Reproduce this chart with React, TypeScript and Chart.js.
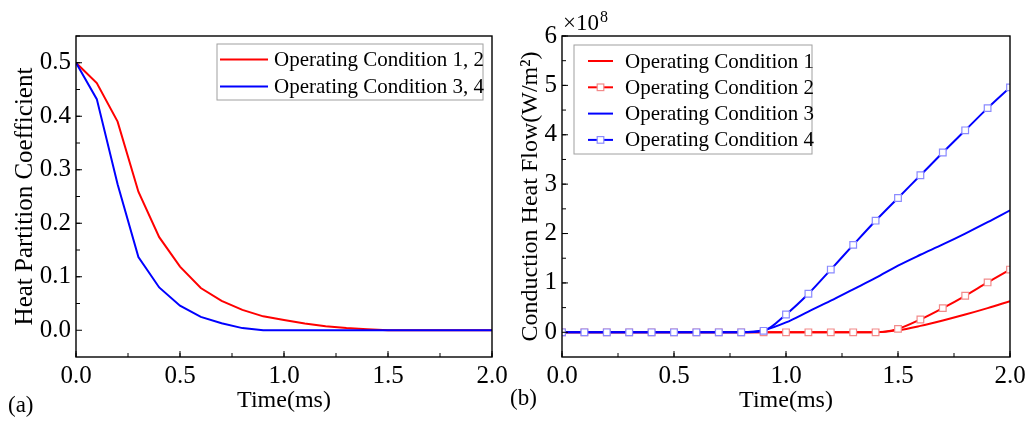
import React, { useEffect, useRef } from 'react';
import { Chart, registerables } from 'chart.js';

Chart.register(...registerables);

const FONT = "'Liberation Serif', 'Times New Roman', serif";

// time axis (ms), shared by both panels
const timeMs = [0, 0.1, 0.2, 0.3, 0.4, 0.5, 0.6, 0.7, 0.8, 0.9, 1.0, 1.1, 1.2, 1.3, 1.4, 1.5, 1.6, 1.7, 1.8, 1.9, 2.0];

// (a) heat partition coefficient
const partition12 = [0.5, 0.462, 0.39, 0.259, 0.174, 0.119, 0.079, 0.055, 0.038, 0.026, 0.019, 0.0125, 0.0075, 0.004, 0.002, 0, 0, 0, 0, 0, 0];
const partition34 = [0.5, 0.432, 0.273, 0.137, 0.08, 0.046, 0.025, 0.013, 0.004, 0, 0, 0, 0, 0, 0, 0, 0, 0, 0, 0, 0];

// (b) conduction heat flow, in units of 1e8 W/m^2
const heat1 = [0, 0, 0, 0, 0, 0, 0, 0, 0, 0, 0, 0, 0, 0, 0, 0.04, 0.13, 0.24, 0.36, 0.49, 0.63];
const heat2 = [0, 0, 0, 0, 0, 0, 0, 0, 0, 0, 0, 0, 0, 0, 0, 0.07, 0.26, 0.49, 0.74, 1.01, 1.27];
const heat3 = [0, 0, 0, 0, 0, 0, 0, 0, 0, 0.04, 0.2, 0.42, 0.64, 0.87, 1.1, 1.35, 1.57, 1.78, 2.0, 2.23, 2.47];
const heat4 = [0, 0, 0, 0, 0, 0, 0, 0, 0, 0.03, 0.36, 0.78, 1.27, 1.77, 2.26, 2.72, 3.18, 3.64, 4.09, 4.54, 4.96];

const timeTicks = [0, 0.5, 1.0, 1.5, 2.0];
const partitionTicks = [0, 0.1, 0.2, 0.3, 0.4, 0.5];
const heatTicks = [0, 1, 2, 3, 4, 5, 6];

const RED = '#ff0000';
const BLUE = '#0000ff';

const toPoints = (ys: number[]) => ys.map((y, i) => ({ x: timeMs[i], y }));

// frame round the plot area and inward tick marks on the left/bottom axes
const framePlugin = {
  id: 'frame',
  afterDatasetsDraw(chart: any, _args: any, opts: any) {
    const { ctx, chartArea: a, scales } = chart;
    ctx.save();
    ctx.strokeStyle = '#000';
    ctx.lineWidth = 1;
    const tickX = (v: number, len: number) => {
      const px = scales.x.getPixelForValue(v);
      ctx.beginPath();
      ctx.moveTo(px, a.bottom);
      ctx.lineTo(px, a.bottom - len);
      ctx.stroke();
    };
    const tickY = (v: number, len: number) => {
      const py = scales.y.getPixelForValue(v);
      ctx.beginPath();
      ctx.moveTo(a.left, py);
      ctx.lineTo(a.left + len, py);
      ctx.stroke();
    };
    for (let v = scales.x.min; v <= scales.x.max + 1e-9; v += opts.xMinor) tickX(v, 4);
    opts.xMajor.forEach((v: number) => tickX(v, 6));
    for (let v = opts.yMinorStart; v <= scales.y.max + 1e-9; v += opts.yMinor) tickY(v, 4);
    opts.yMajor.forEach((v: number) => tickY(v, 6));
    ctx.lineWidth = 1.4;
    ctx.strokeRect(a.left, a.top, a.right - a.left, a.bottom - a.top);
    ctx.restore();
  },
};

// legend box drawn inside the plot area
const boxLegendPlugin = {
  id: 'boxLegend',
  afterDraw(chart: any, _args: any, opts: any) {
    const { ctx } = chart;
    ctx.save();
    ctx.fillStyle = '#fff';
    ctx.fillRect(opts.x, opts.y, opts.w, opts.h);
    ctx.strokeStyle = '#a0a0a0';
    ctx.lineWidth = 1;
    ctx.strokeRect(opts.x, opts.y, opts.w, opts.h);
    ctx.font = `21px ${FONT}`;
    ctx.textBaseline = 'middle';
    chart.data.datasets.forEach((ds: any, i: number) => {
      const cy = opts.rowY + i * opts.rowGap;
      ctx.strokeStyle = ds.borderColor;
      ctx.lineWidth = 2;
      ctx.beginPath();
      ctx.moveTo(opts.sampleX, cy);
      ctx.lineTo(opts.sampleX + opts.sampleW, cy);
      ctx.stroke();
      if (ds.pointRadius > 0) {
        const cx = opts.sampleX + opts.sampleW / 2;
        ctx.fillStyle = '#fff';
        ctx.fillRect(cx - 3.3, cy - 3.3, 6.6, 6.6);
        ctx.strokeStyle = ds.pointBorderColor;
        ctx.lineWidth = 1.2;
        ctx.strokeRect(cx - 3.3, cy - 3.3, 6.6, 6.6);
      }
      ctx.fillStyle = '#000';
      ctx.fillText(ds.label, opts.textX, cy + 1);
    });
    ctx.restore();
  },
};

// "×10^8" multiplier above the y axis
const multiplierPlugin = {
  id: 'multiplier',
  afterDraw(chart: any, _args: any, opts: any) {
    if (!opts.show) return;
    const { ctx, chartArea } = chart;
    ctx.save();
    ctx.fillStyle = '#000';
    ctx.textBaseline = 'alphabetic';
    ctx.font = `23px ${FONT}`;
    const base = '×10';
    const x0 = chartArea.left + 1;
    ctx.fillText(base, x0, 30);
    const w = ctx.measureText(base).width;
    ctx.font = `16px ${FONT}`;
    ctx.fillText('8', x0 + w + 1, 22);
    ctx.restore();
  },
};

const fixTicks = (values: number[]) => (scale: any) => {
  scale.ticks = values.map((value) => ({ value }));
};

function makeScales(cfg: {
  yMin: number; yMax: number; yTicks: number[]; yTitle: string; yWidth: number;
  yTitlePad: number; yTitleSize: number; yFmt: (v: number) => string;
}) {
  const tickFont = { family: FONT, size: 25 };
  const titleFont = { family: FONT, size: 24, lineHeight: 1.2 };
  return {
    x: {
      type: 'linear' as const,
      min: 0,
      max: 2,
      afterBuildTicks: fixTicks(timeTicks),
      grid: { display: true, drawOnChartArea: false, drawTicks: false },
      border: { display: false },
      ticks: { color: '#000', font: tickFont, padding: 4, maxRotation: 0, callback: (v: any) => Number(v).toFixed(1) },
      title: { display: true, text: 'Time(ms)', color: '#000', font: titleFont, padding: { top: 0, bottom: 10 } },
      afterFit: (s: any) => { s.height = 68; s.paddingLeft = 0; s.paddingRight = 0; },
    },
    y: {
      type: 'linear' as const,
      min: cfg.yMin,
      max: cfg.yMax,
      afterBuildTicks: fixTicks(cfg.yTicks),
      grid: { display: true, drawOnChartArea: false, drawTicks: false },
      border: { display: false },
      ticks: { color: '#000', font: tickFont, padding: 5, callback: (v: any) => cfg.yFmt(Number(v)) },
      title: {
        display: true, text: cfg.yTitle, color: '#000',
        font: { family: FONT, size: cfg.yTitleSize, lineHeight: 1.2 },
        padding: { top: cfg.yTitlePad, bottom: 0 },
      },
      afterFit: (s: any) => { s.width = cfg.yWidth; s.paddingTop = 0; s.paddingBottom = 0; },
    },
  };
}

function PanelA() {
  const ref = useRef<HTMLCanvasElement>(null);
  useEffect(() => {
    if (!ref.current) return;
    const chart = new Chart(ref.current, {
      type: 'line',
      data: {
        datasets: [
          { label: 'Operating Condition 1, 2', data: toPoints(partition12), borderColor: RED, borderWidth: 2, pointRadius: 0, tension: 0, order: 1 },
          { label: 'Operating Condition 3, 4', data: toPoints(partition34), borderColor: BLUE, borderWidth: 2, pointRadius: 0, tension: 0, order: 0 },
        ],
      },
      options: {
        responsive: false,
        animation: false,
        layout: { padding: { left: 0, top: 36, right: 18, bottom: 0 } },
        scales: makeScales({
          yMin: -0.05, yMax: 0.55, yTicks: partitionTicks, yTitle: 'Heat Partition Coefficient',
          yWidth: 76, yTitlePad: 10, yTitleSize: 25, yFmt: (v) => v.toFixed(1),
        }),
        plugins: {
          legend: { display: false },
          tooltip: { enabled: false },
          frame: { xMajor: timeTicks, xMinor: 0.25, yMajor: partitionTicks, yMinor: 0.05, yMinorStart: 0.05 },
          boxLegend: { x: 217, y: 44, w: 266, h: 56, sampleX: 220, sampleW: 48, textX: 274, rowY: 59.5, rowGap: 27 },
          multiplier: { show: false },
        } as any,
      },
      plugins: [framePlugin, boxLegendPlugin, multiplierPlugin],
    });
    return () => chart.destroy();
  }, []);
  return <canvas ref={ref} width={510} height={425} style={{ position: 'absolute', left: 0, top: 0, width: 510, height: 425 }} />;
}

function PanelB() {
  const ref = useRef<HTMLCanvasElement>(null);
  useEffect(() => {
    if (!ref.current) return;
    const marker = (color: string) => ({
      pointRadius: 4.7,
      pointStyle: 'rect' as const,
      pointBackgroundColor: '#fff',
      pointBorderColor: color,
      pointBorderWidth: 1.2,
    });
    const chart = new Chart(ref.current, {
      type: 'line',
      data: {
        datasets: [
          { label: 'Operating Condition 1', data: toPoints(heat1), borderColor: RED, borderWidth: 2, pointRadius: 0, cubicInterpolationMode: 'monotone', order: 3 },
          { label: 'Operating Condition 2', data: toPoints(heat2), borderColor: RED, borderWidth: 2, cubicInterpolationMode: 'monotone', order: 2, ...marker('#f28a8a') },
          { label: 'Operating Condition 3', data: toPoints(heat3), borderColor: BLUE, borderWidth: 2, pointRadius: 0, cubicInterpolationMode: 'monotone', order: 1 },
          { label: 'Operating Condition 4', data: toPoints(heat4), borderColor: BLUE, borderWidth: 2, cubicInterpolationMode: 'monotone', order: 0, ...marker('#8a8aff') },
        ],
      },
      options: {
        responsive: false,
        animation: false,
        layout: { padding: { left: 0, top: 36, right: 25, bottom: 0 } },
        scales: makeScales({
          yMin: -0.5, yMax: 6, yTicks: heatTicks, yTitle: 'Conduction Heat Flow(W/m²)',
          yWidth: 52, yTitlePad: 6, yTitleSize: 24, yFmt: (v) => String(Math.round(v)),
        }),
        plugins: {
          legend: { display: false },
          tooltip: { enabled: false },
          frame: { xMajor: timeTicks, xMinor: 0.25, yMajor: heatTicks, yMinor: 0.5, yMinorStart: 0.5 },
          boxLegend: { x: 64, y: 45, w: 238, h: 109, sampleX: 78, sampleW: 25, textX: 115, rowY: 61, rowGap: 26.3 },
          multiplier: { show: true },
        } as any,
      },
      plugins: [framePlugin, boxLegendPlugin, multiplierPlugin],
    });
    return () => chart.destroy();
  }, []);
  return <canvas ref={ref} width={525} height={425} style={{ position: 'absolute', left: 510, top: 0, width: 525, height: 425 }} />;
}

const panelLabel: React.CSSProperties = {
  position: 'absolute',
  fontFamily: FONT,
  fontSize: 23,
  lineHeight: '23px',
  color: '#000',
};

export default function App() {
  return (
    <div style={{ position: 'fixed', left: 0, top: 0, width: 1035, height: 425, background: '#fff', overflow: 'hidden' }}>
      <PanelA />
      <PanelB />
      <div style={{ ...panelLabel, left: 8, top: 393 }}>(a)</div>
      <div style={{ ...panelLabel, left: 510, top: 386 }}>(b)</div>
    </div>
  );
}
